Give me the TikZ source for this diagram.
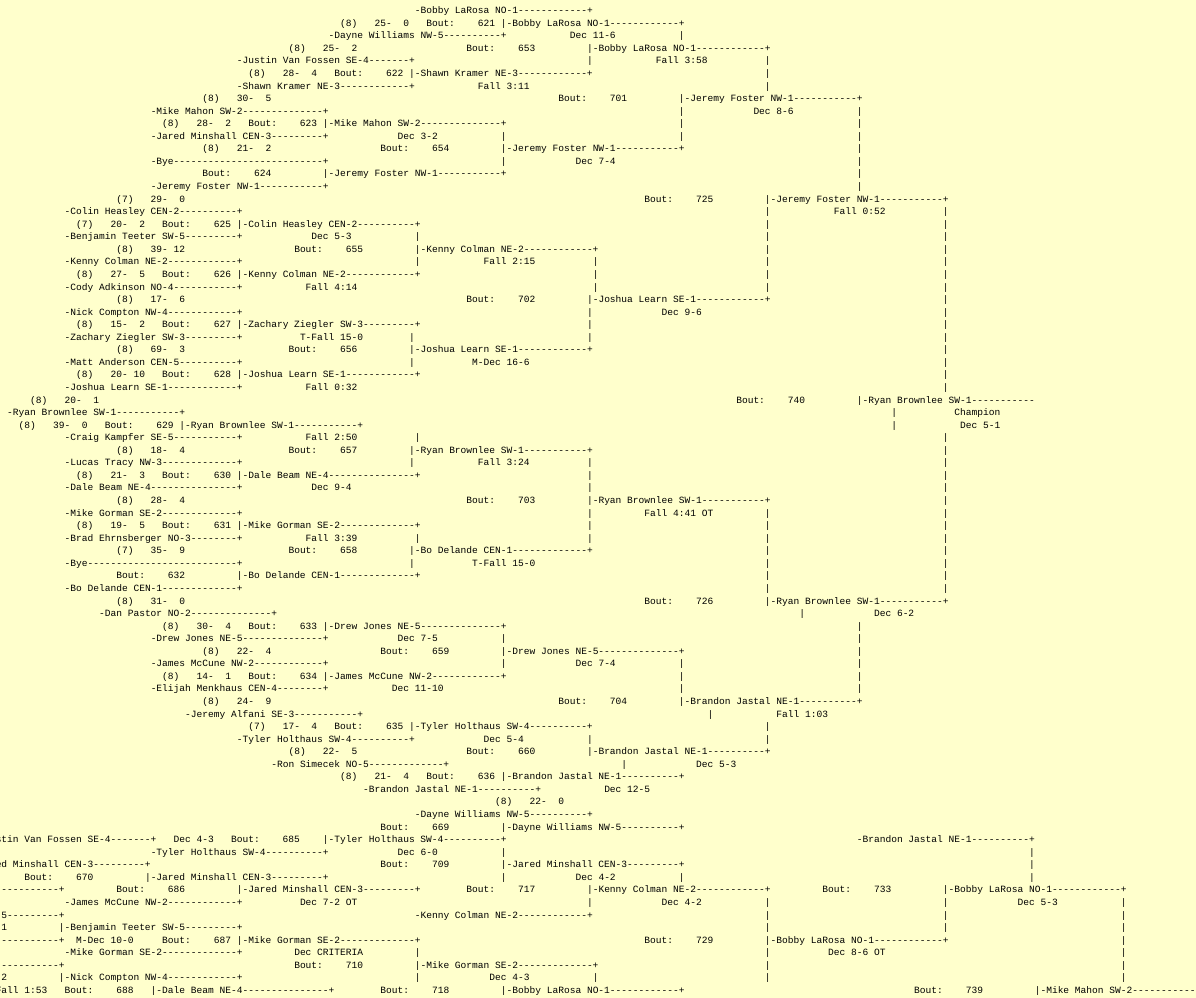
\documentclass[tikz,border=0pt]{standalone}
\usepackage{fontspec}
\setmonofont{Liberation Mono}
\usepackage{tikz}
\definecolor{bracketback}{RGB}{255,255,204}

\newlength\cw
\newcommand\mono{\ttfamily\fontsize{9.566pt}{12pt}\selectfont}
\newcommand\at[2]{\rlap{\kern#1\cw\relax#2}}
\newcommand\dfill{\xleaders\hbox to\dimexpr\cw-2sp\relax{\hss-\hss}\hfill}
\newcommand\dashes[1]{\hbox to #1\cw{\dfill}}
\newcommand\entx[1]{\hbox to 30\cw{-#1\dfill}}
\newcommand\ent[1]{\entx{#1}+}
\newcommand\win[1]{|\ent{#1}}
\newcommand\row[2]{\node[ln] (l#1) at (0.8,{13.7+(#1-1)*12.56}) {#2};}

\tikzset{ln/.style={anchor=base west,inner sep=0pt,font=\mono,text=black}}

\begin{document}
\settowidth\cw{\mono -}
\begin{tikzpicture}[x=1pt,y=-1pt]
\fill[bracketback] (0,0) rectangle (1196,998);
\clip (0,0) rectangle (1196,998);
% championship side
\row{1}{\at{72}{\ent{Bobby LaRosa NO-1}}}
\row{2}{\at{59}{(8)~~~25-~~0~~~Bout:~~~~621~\win{Bobby LaRosa NO-1}}}
\row{3}{\at{57}{\ent{Dayne Williams NW-5}}\at{99}{Dec 11-6}\at{118}{|}}
\row{4}{\at{50}{(8)~~~25-~~2}\at{81}{Bout:~~~~653}\at{102}{\win{Bobby LaRosa NO-1}}}
\row{5}{\at{41}{\ent{Justin Van Fossen SE-4}}\at{102}{|}\at{114}{Fall 3:58}\at{133}{|}}
\row{6}{\at{43}{(8)~~~28-~~4~~~Bout:~~~~622~\win{Shawn Kramer NE-3}}\at{133}{|}}
\row{7}{\at{41}{\ent{Shawn Kramer NE-3}}\at{83}{Fall 3:11}\at{133}{|}}
\row{8}{\at{35}{(8)~~~30-~~5}\at{97}{Bout:~~~~701}\at{118}{\win{Jeremy Foster NW-1}}}
\row{9}{\at{26}{\ent{Mike Mahon SW-2}}\at{118}{|}\at{131}{Dec 8-6}\at{149}{|}}
\row{10}{\at{28}{(8)~~~28-~~2~~~Bout:~~~~623~\win{Mike Mahon SW-2}}\at{118}{|}\at{149}{|}}
\row{11}{\at{26}{\ent{Jared Minshall CEN-3}}\at{69}{Dec 3-2}\at{87}{|}\at{118}{|}\at{149}{|}}
\row{12}{\at{35}{(8)~~~21-~~2}\at{66}{Bout:~~~~654}\at{87}{\win{Jeremy Foster NW-1}}\at{149}{|}}
\row{13}{\at{26}{\ent{Bye}}\at{87}{|}\at{100}{Dec 7-4}\at{149}{|}}
\row{14}{\at{35}{Bout:~~~~624}\at{56}{\win{Jeremy Foster NW-1}}\at{149}{|}}
\row{15}{\at{26}{\ent{Jeremy Foster NW-1}}\at{149}{|}}
\row{16}{\at{20}{(7)~~~29-~~0}\at{112}{Bout:~~~~725}\at{133}{\win{Jeremy Foster NW-1}}}
\row{17}{\at{11}{\ent{Colin Heasley CEN-2}}\at{133}{|}\at{145}{Fall 0:52}\at{164}{|}}
\row{18}{\at{13}{(7)~~~20-~~2~~~Bout:~~~~625~\win{Colin Heasley CEN-2}}\at{133}{|}\at{164}{|}}
\row{19}{\at{11}{\ent{Benjamin Teeter SW-5}}\at{54}{Dec 5-3}\at{72}{|}\at{133}{|}\at{164}{|}}
\row{20}{\at{20}{(8)~~~39-~12}\at{51}{Bout:~~~~655}\at{72}{\win{Kenny Colman NE-2}}\at{133}{|}\at{164}{|}}
\row{21}{\at{11}{\ent{Kenny Colman NE-2}}\at{72}{|}\at{84}{Fall 2:15}\at{103}{|}\at{133}{|}\at{164}{|}}
\row{22}{\at{13}{(8)~~~27-~~5~~~Bout:~~~~626~\win{Kenny Colman NE-2}}\at{103}{|}\at{133}{|}\at{164}{|}}
\row{23}{\at{11}{\ent{Cody Adkinson NO-4}}\at{53}{Fall 4:14}\at{103}{|}\at{133}{|}\at{164}{|}}
\row{24}{\at{20}{(8)~~~17-~~6}\at{81}{Bout:~~~~702}\at{102}{\win{Joshua Learn SE-1}}\at{164}{|}}
\row{25}{\at{11}{\ent{Nick Compton NW-4}}\at{102}{|}\at{115}{Dec 9-6}\at{164}{|}}
\row{26}{\at{13}{(8)~~~15-~~2~~~Bout:~~~~627~\win{Zachary Ziegler SW-3}}\at{102}{|}\at{164}{|}}
\row{27}{\at{11}{\ent{Zachary Ziegler SW-3}}\at{52}{T-Fall 15-0}\at{71}{|}\at{102}{|}\at{164}{|}}
\row{28}{\at{20}{(8)~~~69-~~3}\at{50}{Bout:~~~~656}\at{71}{\win{Joshua Learn SE-1}}\at{164}{|}}
\row{29}{\at{11}{\ent{Matt Anderson CEN-5}}\at{71}{|}\at{82}{M-Dec 16-6}\at{164}{|}}
\row{30}{\at{13}{(8)~~~20-~10~~~Bout:~~~~628~\win{Joshua Learn SE-1}}\at{164}{|}}
\row{31}{\at{11}{\ent{Joshua Learn SE-1}}\at{53}{Fall 0:32}\at{164}{|}}
\row{32}{\at{5}{(8)~~~20-~~1}\at{128}{Bout:~~~~740}\at{149}{|\entx{Ryan Brownlee SW-1}}}
\row{33}{\at{1}{\ent{Ryan Brownlee SW-1}}\at{155}{|}\at{166}{Champion}}
\row{34}{\at{3}{(8)~~~39-~~0~~~Bout:~~~~629~\win{Ryan Brownlee SW-1}}\at{155}{|}\at{167}{Dec 5-1}}
\row{35}{\at{11}{\ent{Craig Kampfer SE-5}}\at{53}{Fall 2:50}\at{72}{|}\at{164}{|}}
\row{36}{\at{20}{(8)~~~18-~~4}\at{50}{Bout:~~~~657}\at{71}{\win{Ryan Brownlee SW-1}}\at{164}{|}}
\row{37}{\at{11}{\ent{Lucas Tracy NW-3}}\at{71}{|}\at{83}{Fall 3:24}\at{102}{|}\at{164}{|}}
\row{38}{\at{13}{(8)~~~21-~~3~~~Bout:~~~~630~\win{Dale Beam NE-4}}\at{102}{|}\at{164}{|}}
\row{39}{\at{11}{\ent{Dale Beam NE-4}}\at{54}{Dec 9-4}\at{102}{|}\at{164}{|}}
\row{40}{\at{20}{(8)~~~28-~~4}\at{81}{Bout:~~~~703}\at{102}{\win{Ryan Brownlee SW-1}}\at{164}{|}}
\row{41}{\at{11}{\ent{Mike Gorman SE-2}}\at{102}{|}\at{112}{Fall 4:41 OT}\at{133}{|}\at{164}{|}}
\row{42}{\at{13}{(8)~~~19-~~5~~~Bout:~~~~631~\win{Mike Gorman SE-2}}\at{102}{|}\at{133}{|}\at{164}{|}}
\row{43}{\at{11}{\ent{Brad Ehrnsberger NO-3}}\at{53}{Fall 3:39}\at{72}{|}\at{102}{|}\at{133}{|}\at{164}{|}}
\row{44}{\at{20}{(7)~~~35-~~9}\at{50}{Bout:~~~~658}\at{71}{\win{Bo Delande CEN-1}}\at{133}{|}\at{164}{|}}
\row{45}{\at{11}{\ent{Bye}}\at{71}{|}\at{82}{T-Fall 15-0}\at{133}{|}\at{164}{|}}
\row{46}{\at{20}{Bout:~~~~632}\at{41}{\win{Bo Delande CEN-1}}\at{133}{|}\at{164}{|}}
\row{47}{\at{11}{\ent{Bo Delande CEN-1}}\at{133}{|}\at{164}{|}}
\row{48}{\at{20}{(8)~~~31-~~0}\at{112}{Bout:~~~~726}\at{133}{\win{Ryan Brownlee SW-1}}}
\row{49}{\at{17}{\ent{Dan Pastor NO-2}}\at{139}{|}\at{152}{Dec 6-2}}
\row{50}{\at{28}{(8)~~~30-~~4~~~Bout:~~~~633~\win{Drew Jones NE-5}}\at{149}{|}}
\row{51}{\at{26}{\ent{Drew Jones NE-5}}\at{69}{Dec 7-5}\at{87}{|}\at{149}{|}}
\row{52}{\at{35}{(8)~~~22-~~4}\at{66}{Bout:~~~~659}\at{87}{\win{Drew Jones NE-5}}\at{149}{|}}
\row{53}{\at{26}{\ent{James McCune NW-2}}\at{87}{|}\at{100}{Dec 7-4}\at{118}{|}\at{149}{|}}
\row{54}{\at{28}{(8)~~~14-~~1~~~Bout:~~~~634~\win{James McCune NW-2}}\at{118}{|}\at{149}{|}}
\row{55}{\at{26}{\ent{Elijah Menkhaus CEN-4}}\at{68}{Dec 11-10}\at{118}{|}\at{149}{|}}
\row{56}{\at{35}{(8)~~~24-~~9}\at{97}{Bout:~~~~704}\at{118}{\win{Brandon Jastal NE-1}}}
\row{57}{\at{32}{\ent{Jeremy Alfani SE-3}}\at{123}{|}\at{135}{Fall 1:03}}
\row{58}{\at{43}{(7)~~~17-~~4~~~Bout:~~~~635~\win{Tyler Holthaus SW-4}}\at{133}{|}}
\row{59}{\at{41}{\ent{Tyler Holthaus SW-4}}\at{84}{Dec 5-4}\at{102}{|}\at{133}{|}}
\row{60}{\at{50}{(8)~~~22-~~5}\at{81}{Bout:~~~~660}\at{102}{\win{Brandon Jastal NE-1}}}
\row{61}{\at{47}{\ent{Ron Simecek NO-5}}\at{108}{|}\at{121}{Dec 5-3}}
\row{62}{\at{59}{(8)~~~21-~~4~~~Bout:~~~~636~\win{Brandon Jastal NE-1}}}
\row{63}{\at{63}{\ent{Brandon Jastal NE-1}}\at{105}{Dec 12-5}}
\row{64}{\at{86}{(8)~~~22-~~0}}
\row{65}{\at{72}{\ent{Dayne Williams NW-5}}}
\row{66}{\at{66}{Bout:~~~~669}\at{87}{\win{Dayne Williams NW-5}}}
% consolation side
\row{67}{\at{-4}{\ent{Justin Van Fossen SE-4}}\at{30}{Dec 4-3}\at{40}{Bout:~~~~685}\at{56}{\win{Tyler Holthaus SW-4}}\at{149}{\ent{Brandon Jastal NE-1}}}
\row{68}{\at{26}{\ent{Tyler Holthaus SW-4}}\at{69}{Dec 6-0}\at{87}{|}\at{179}{|}}
\row{69}{\at{-5}{\ent{Jared Minshall CEN-3}}\at{66}{Bout:~~~~709}\at{87}{\win{Jared Minshall CEN-3}}\at{179}{|}}
\row{70}{\at{4}{Bout:~~~~670}\at{25}{\win{Jared Minshall CEN-3}}\at{87}{|}\at{100}{Dec 4-2}\at{118}{|}\at{179}{|}}
\row{71}{\at{-1}{\dashes{11}+}\at{20}{Bout:~~~~686}\at{41}{\win{Jared Minshall CEN-3}}\at{81}{Bout:~~~~717}\at{102}{\win{Kenny Colman NE-2}}\at{143}{Bout:~~~~733}\at{164}{\win{Bobby LaRosa NO-1}}}
\row{72}{\at{11}{\ent{James McCune NW-2}}\at{52}{Dec 7-2 OT}\at{102}{|}\at{115}{Dec 4-2}\at{133}{|}\at{164}{|}\at{177}{Dec 5-3}\at{195}{|}}
\row{73}{\at{-20}{\ent{Benjamin Teeter SW-5}}\at{72}{\ent{Kenny Colman NE-2}}\at{133}{|}\at{164}{|}\at{195}{|}}
\row{74}{\at{0}{1}\at{10}{\win{Benjamin Teeter SW-5}}\at{133}{|}\at{164}{|}\at{195}{|}}
\row{75}{\at{-1}{\dashes{11}+}\at{13}{M-Dec 10-0}\at{28}{Bout:~~~~687~\win{Mike Gorman SE-2}}\at{112}{Bout:~~~~729}\at{133}{\win{Bobby LaRosa NO-1}}\at{195}{|}}
\row{76}{\at{11}{\ent{Mike Gorman SE-2}}\at{51}{Dec CRITERIA}\at{72}{|}\at{133}{|}\at{144}{Dec 8-6 OT}\at{195}{|}}
\row{77}{\at{-1}{\dashes{11}+}\at{51}{Bout:~~~~710}\at{72}{\win{Mike Gorman SE-2}}\at{133}{|}\at{195}{|}}
\row{78}{\at{0}{2}\at{10}{\win{Nick Compton NW-4}}\at{72}{|}\at{85}{Dec 4-3}\at{103}{|}\at{133}{|}\at{195}{|}}
\row{79}{\at{-1}{Fall 1:53}\at{11}{Bout:~~~~688}\at{26}{\win{Dale Beam NE-4}}\at{66}{Bout:~~~~718}\at{87}{\win{Bobby LaRosa NO-1}}\at{159}{Bout:~~~~739}\at{180}{|\entx{Mike Mahon SW-2}}}
\end{tikzpicture}
\end{document}
